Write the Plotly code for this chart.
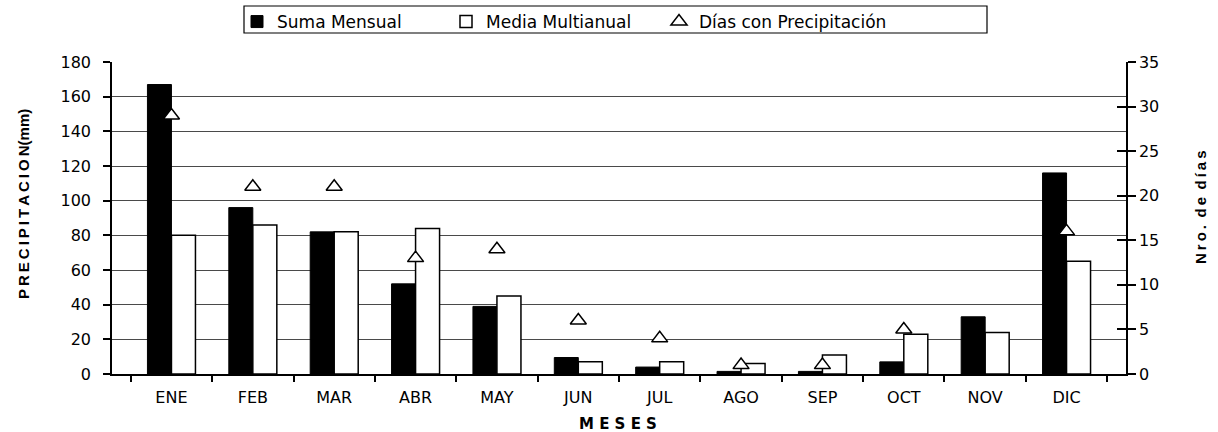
import plotly.graph_objects as go

months = ["ENE", "FEB", "MAR", "ABR", "MAY", "JUN", "JUL", "AGO", "SEP", "OCT", "NOV", "DIC"]
suma_mensual = [167, 96, 82, 52, 39, 9.5, 4, 1.5, 1.5, 7, 33, 116]
media_multianual = [80, 86, 82, 84, 45, 7, 7, 6, 11, 23, 24, 65]
dias_precip = [29, 21, 21, 13, 14, 6, 4, 1, 1, 5, None, 16]

left_ticks = list(range(0, 181, 20))
right_ticks = list(range(0, 36, 5))

TS = "\u2009"  # thin space for letter spacing look
WS = "\u2002"  # en space between words

# plot area in pixels (for paper-coordinate placement)
L, R, T, B = 112, 1126, 62, 374
PW, PH = R - L, B - T


def px(xp):
    return (xp - L) / PW


def py(yp):
    return (B - yp) / PH


fig = go.Figure()
fig.add_trace(go.Bar(
    x=months, y=suma_mensual, name="Suma Mensual", legend="legend",
    marker=dict(color="black", line=dict(color="black", width=1)),
))
fig.add_trace(go.Bar(
    x=months, y=media_multianual, name="Media Multianual", legend="legend2",
    marker=dict(color="white", line=dict(color="black", width=1.5)),
))
fig.add_trace(go.Scatter(
    x=months, y=dias_precip, name="Días con Precipitación", yaxis="y2",
    legend="legend3", mode="markers",
    marker=dict(symbol="triangle-up", size=14, color="white",
                line=dict(color="black", width=1.5)),
))
# invisible trace to activate the tick-crossing overlay axis
fig.add_trace(go.Scatter(x=[months[0]], y=[None], yaxis="y3", showlegend=False,
                         hoverinfo="skip", mode="markers"))

leg_common = dict(
    orientation="h", xanchor="left", y=py(4), yanchor="top",
    borderwidth=0, bgcolor="rgba(0,0,0,0)",
    font=dict(family="DejaVu Sans", size=17, color="black"),
    itemwidth=30,
)

fig.update_layout(
    width=1218, height=432,
    margin=dict(l=L, r=1218 - R, t=T, b=432 - B, autoexpand=False),
    paper_bgcolor="white", plot_bgcolor="white",
    barmode="group", bargap=0.41, bargroupgap=0,
    font=dict(family="DejaVu Sans", size=14, color="black"),
    showlegend=True,
    legend=dict(x=px(237), **leg_common),
    legend2=dict(x=px(446), **leg_common),
    legend3=dict(x=px(659), **leg_common),
    shapes=[
        dict(type="rect", xref="paper", yref="paper",
             x0=px(244), x1=px(987), y0=py(33), y1=py(6),
             line=dict(color="black", width=1.2), fillcolor="rgba(0,0,0,0)",
             layer="below"),
    ],
    xaxis=dict(
        type="category", categoryorder="array", categoryarray=months,
        showline=True, linecolor="black", linewidth=1.5,
        ticks="outside", ticklen=6, tickcolor="black", tickwidth=1.5,
        tickson="boundaries", ticklabelstandoff=8,
        tickfont=dict(family="DejaVu Sans", size=16, color="black"),
        showgrid=False, zeroline=False,
    ),
    yaxis=dict(
        range=[0, 180], tickvals=left_ticks,
        showline=True, linecolor="black", linewidth=1.5,
        ticks="outside", ticklen=7, tickcolor="black", tickwidth=1.5,
        ticklabelstandoff=9,
        tickfont=dict(family="DejaVu Sans", size=16, color="black"),
        showgrid=True, gridcolor="#4a4a4a", gridwidth=1,
        zeroline=False,
    ),
    yaxis2=dict(
        range=[0, 35], tickvals=right_ticks, overlaying="y", side="right",
        showline=True, linecolor="black", linewidth=1.5,
        ticks="outside", ticklen=8, tickcolor="black", tickwidth=1.5,
        tickfont=dict(family="DejaVu Sans", size=16, color="black"),
        showgrid=False, zeroline=False,
    ),
    yaxis3=dict(
        range=[0, 35], tickvals=right_ticks, overlaying="y", side="right",
        anchor="x", showline=False,
        ticks="inside", ticklen=9, tickcolor="black", tickwidth=1.5,
        showticklabels=False, showgrid=False, zeroline=False,
    ),
    annotations=[
        dict(text="<b>" + TS.join("PRECIPITACION") + "(mm)</b>",
             xref="paper", yref="paper", x=px(23), y=py(204),
             textangle=-90, showarrow=False, xanchor="center", yanchor="middle",
             font=dict(family="Liberation Sans", size=15, color="black")),
        dict(text="<b>" + TS.join("Nro.") + WS + TS.join("de") + WS + TS.join("días") + "</b>",
             xref="paper", yref="paper", x=px(1200), y=py(207),
             textangle=-90, showarrow=False, xanchor="center", yanchor="middle",
             font=dict(family="Liberation Sans", size=15, color="black")),
        dict(text="<b>M E S E S</b>",
             xref="paper", yref="paper", x=px(618), y=py(424),
             showarrow=False, xanchor="center", yanchor="middle",
             font=dict(family="DejaVu Sans", size=15, color="black")),
    ],
)

fig.write_html("out.html", config={"displayModeBar": False},
               post_script="document.body.style.margin='0px';")
